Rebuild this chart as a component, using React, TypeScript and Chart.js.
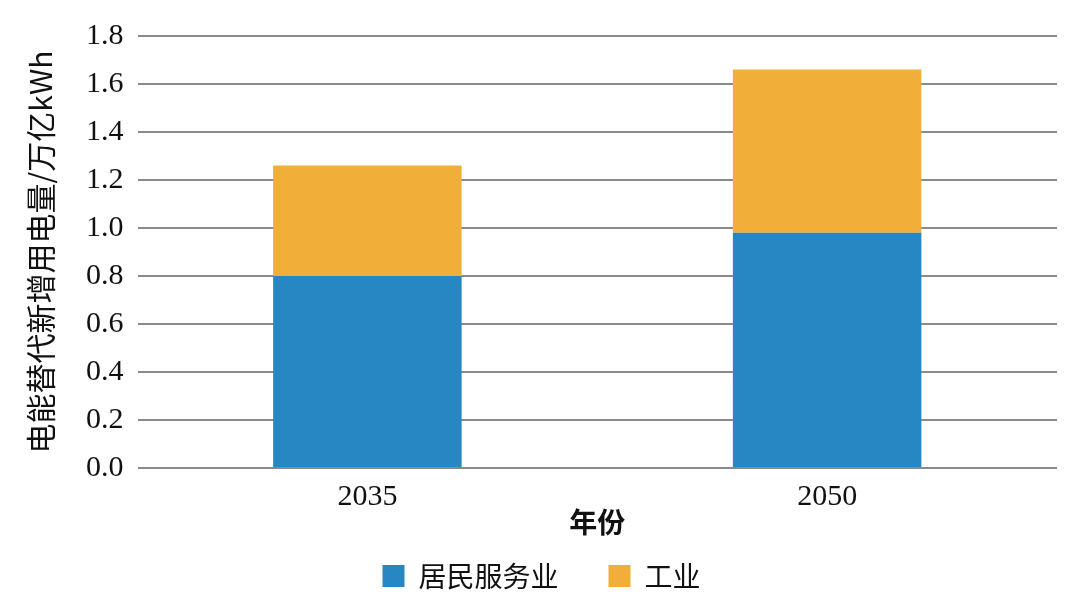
import React, { useEffect, useRef } from "react";
import { Chart, registerables } from "chart.js";

Chart.register(...registerables);

const categories = ["2035", "2050"];
const residentialValues = [0.8, 0.98];
const industryValues = [0.46, 0.68];
const seriesNames = ["居民服务业", "工业"];
const yTitle = "电能替代新增用电量/万亿kWh";
const xTitle = "年份";

export default function App() {
  const ref = useRef<HTMLCanvasElement | null>(null);
  useEffect(() => {
    document.body.style.margin = "0";
    const canvas = ref.current;
    if (!canvas) return;
    const chart = new Chart(canvas, {
      type: "bar",
      data: {
        labels: categories,
        datasets: [
          {
            label: seriesNames[0],
            data: residentialValues,
            backgroundColor: "#2787c2",
            categoryPercentage: 0.41,
            barPercentage: 1.0,
          },
          {
            label: seriesNames[1],
            data: industryValues,
            backgroundColor: "#f1af3a",
            categoryPercentage: 0.41,
            barPercentage: 1.0,
          },
        ],
      },
      options: {
        animation: false,
        responsive: false,
        layout: { padding: { left: 26, right: 23, top: 36, bottom: 3 } },
        plugins: {
          legend: {
            position: "bottom",
            labels: {
              boxWidth: 22,
              boxHeight: 22,
              padding: 50,
              color: "#111",
              font: { family: "'Noto Sans CJK SC'", size: 28, lineHeight: 1 },
            },
          },
          tooltip: { enabled: false },
        },
        scales: {
          x: {
            stacked: true,
            grid: { display: false, drawTicks: false },
            border: { display: false },
            ticks: {
              color: "#111",
              font: { family: "'Liberation Serif'", size: 30, lineHeight: 1 },
              padding: 14,
            },
            title: {
              display: true,
              text: xTitle,
              color: "#111",
              font: { family: "'Noto Sans CJK SC'", size: 28, weight: "bold", lineHeight: 1 },
              padding: { top: -18, bottom: -24 },
            },
          },
          y: {
            stacked: true,
            min: 0,
            max: 1.8,
            ticks: {
              stepSize: 0.2,
              color: "#111",
              font: { family: "'Liberation Serif'", size: 30, lineHeight: 1 },
              padding: 14,
              callback: (v: any) => Number(v).toFixed(1),
            },
            grid: { color: "#8a8a8a", lineWidth: 2, drawTicks: false },
            border: { display: false },
            title: {
              display: true,
              text: yTitle,
              color: "#111",
              font: { family: "'Noto Sans CJK SC', 'Liberation Serif'", size: 30, lineHeight: 1 },
              padding: { top: 0, bottom: 16 },
            },
          },
        },
      },
    });
    return () => chart.destroy();
  }, []);
  return <canvas ref={ref} width={1080} height={603} style={{ display: "block" }} />;
}
